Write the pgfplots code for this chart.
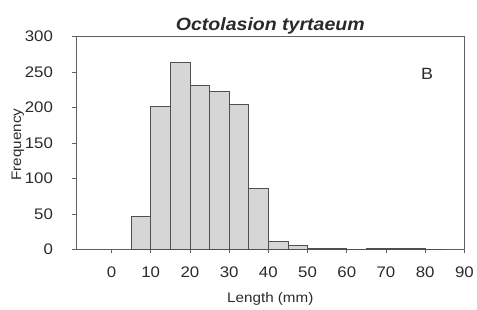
\documentclass[border=0pt]{standalone}
\usepackage{pgfplots}
\pgfplotsset{compat=1.18}
\usepackage{fontspec}
\setmainfont{Liberation Sans}[FakeStretch=1.1]
\usetikzlibrary{calc}
\definecolor{txt}{HTML}{2A2A2A}
\definecolor{axc}{HTML}{606060}
\definecolor{barfill}{HTML}{D6D6D6}
\definecolor{baredge}{HTML}{505050}
\begin{document}
\begin{tikzpicture}
\begin{axis}[
  name=ax,
  scale only axis,
  width=392bp, height=215bp,
  xmin=-9, xmax=90,
  ymin=0, ymax=300,
  xtick={0,10,...,90},
  ytick={0,50,...,300},
  axis line style={axc, line width=0.9pt},
  tick style={axc, line width=0.8pt},
  tick align=outside,
  major tick length=4bp,
  xtick pos=bottom, ytick pos=left,
  /pgf/number format/assume math mode=true,
  tick label style={font=\fontsize{15.5}{17}\selectfont, text=txt},
  yticklabel style={xshift=-16bp},
  xticklabel style={yshift=-10bp},
  clip=false,
]
\addplot[ybar interval, fill=barfill, draw=baredge, line width=0.8pt] coordinates {
(5,47) (10,202) (15,263) (20,231) (25,223) (30,205) (35,86) (40,11) (45,6)
(50,1) (55,1) (60,0) (65,2) (70,1) (75,1) (80,0) (85,0)
};
\node[anchor=base, font=\fontsize{18}{20}\selectfont\bfseries\itshape, text=txt] at (axis description cs:0.5,1.028) {Octolasion tyrtaeum};
\node[anchor=base, font=\fontsize{14}{16}\selectfont, text=txt] at (axis description cs:0.5,-0.251) {Length (mm)};
\node[rotate=90, anchor=center, font=\fontsize{14}{16}\selectfont, text=txt] at (axis description cs:-0.1505,0.493) {Frequency};
\node[anchor=center, font=\fontsize{16.5}{18}\selectfont, text=txt] at (axis cs:80.5,247) {B};
\end{axis}
\path ($(ax.south west)+(-77bp,-58bp)$) rectangle ($(ax.north east)+(8bp,37bp)$);
\end{tikzpicture}
\end{document}
